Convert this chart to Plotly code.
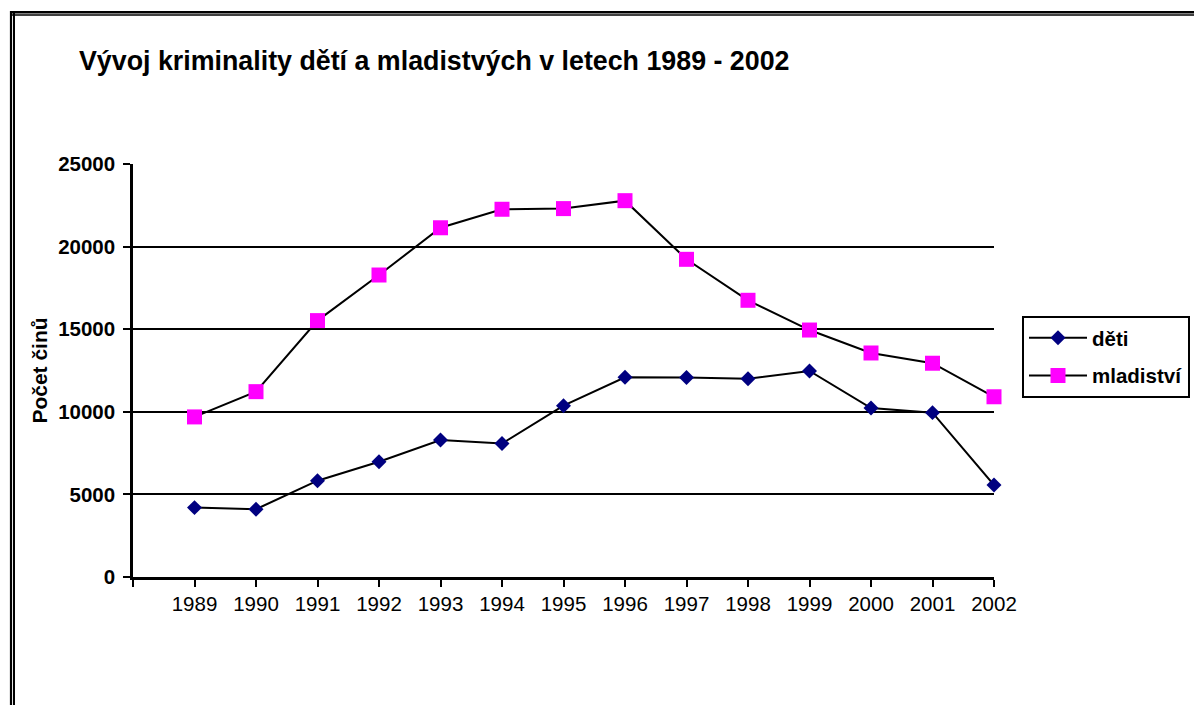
import plotly.graph_objects as go

years = [1989, 1990, 1991, 1992, 1993, 1994, 1995, 1996, 1997, 1998, 1999, 2000, 2001, 2002]
deti = [4200, 4100, 5830, 6980, 8290, 8080, 10370, 12090, 12080, 12000, 12470, 10230, 9950, 5570]
mladistvi = [9690, 11220, 15520, 18280, 21140, 22260, 22300, 22780, 19230, 16750, 14950, 13560, 12940, 10910]
tick_years = [1988] + years
tick_labels = [""] + [str(y) for y in years]

FONT = "Liberation Sans, Arial, sans-serif"

W, H = 1194, 705
L, R, T, B = 133, 994, 164, 577

fig = go.Figure()
fig.add_trace(go.Scatter(
    x=years, y=deti, name="děti", mode="lines+markers", legendgroup="g1",
    line=dict(color="black", width=2),
    marker=dict(symbol="diamond", size=11.5, color="#000080", line=dict(width=0)),
    cliponaxis=False,
))
fig.add_trace(go.Scatter(
    x=years, y=mladistvi, name="mladiství", mode="lines+markers", legendgroup="g2",
    line=dict(color="black", width=2),
    marker=dict(symbol="square", size=15, color="#FF00FF", line=dict(width=0)),
    cliponaxis=False,
))

def px_x(p):
    return (p - L) / (R - L)

def px_y(p):
    return (B - p) / (B - T)

shapes = []
# frame: double line at top and left
for yy, w in [(12.2, 2.5), (15.0, 1.5)]:
    shapes.append(dict(type="line", xref="paper", yref="paper",
                       x0=px_x(10), x1=px_x(1194), y0=px_y(yy), y1=px_y(yy),
                       line=dict(color="black", width=w)))
for xx, w in [(11.0, 2.2), (14.0, 2.0)]:
    shapes.append(dict(type="line", xref="paper", yref="paper",
                       x0=px_x(xx), x1=px_x(xx), y0=px_y(11), y1=px_y(705),
                       line=dict(color="black", width=w)))

fig.update_layout(
    width=W, height=H,
    margin=dict(l=L, r=W - R, t=T, b=H - B, autoexpand=False),
    paper_bgcolor="white", plot_bgcolor="white",
    font=dict(family=FONT, color="black", size=20),
    title=dict(text="<b>Vývoj kriminality dětí a mladistvých v letech 1989 - 2002</b>",
               x=79 / W, xanchor="left", xref="container",
               y=1 - 61 / H, yanchor="middle", yref="container",
               font=dict(family=FONT, size=26.8, color="black")),
    xaxis=dict(range=[1988, 2002], tickmode="array", tickvals=tick_years, ticktext=tick_labels,
               showgrid=False, zeroline=False, showline=True, linecolor="black", linewidth=2.5,
               ticks="outside", ticklen=7, tickwidth=2, tickcolor="black",
               tickfont=dict(family=FONT, size=20.5, color="black")),
    yaxis=dict(range=[0, 25000], tickmode="array", tickvals=[0, 5000, 10000, 15000, 20000, 25000],
               ticktext=["0", "5000", "10000", "15000", "20000", "25000"],
               showgrid=True, gridcolor="black", gridwidth=2.2, zeroline=False,
               showline=True, linecolor="black", linewidth=2.5,
               ticks="outside", ticklen=7, tickwidth=2, tickcolor="black",
               ticklabelstandoff=4,
               tickfont=dict(family=FONT, size=20.5, color="black", weight="bold"),
               title=dict(text="<b>Počet činů</b>", font=dict(family=FONT, size=21, color="black"),
                          standoff=5)),
    legend=dict(x=px_x(1022), xanchor="left", y=px_y(316), yanchor="top",
                bordercolor="black", borderwidth=2, bgcolor="white",
                font=dict(family=FONT, size=20.5, color="black", weight="bold"),
                tracegroupgap=8, itemwidth=58),
    showlegend=True,
    shapes=shapes,
)

fig.write_html("out.html", config={"displayModeBar": False},
               post_script="document.body.style.margin='0';document.body.style.padding='0';")
